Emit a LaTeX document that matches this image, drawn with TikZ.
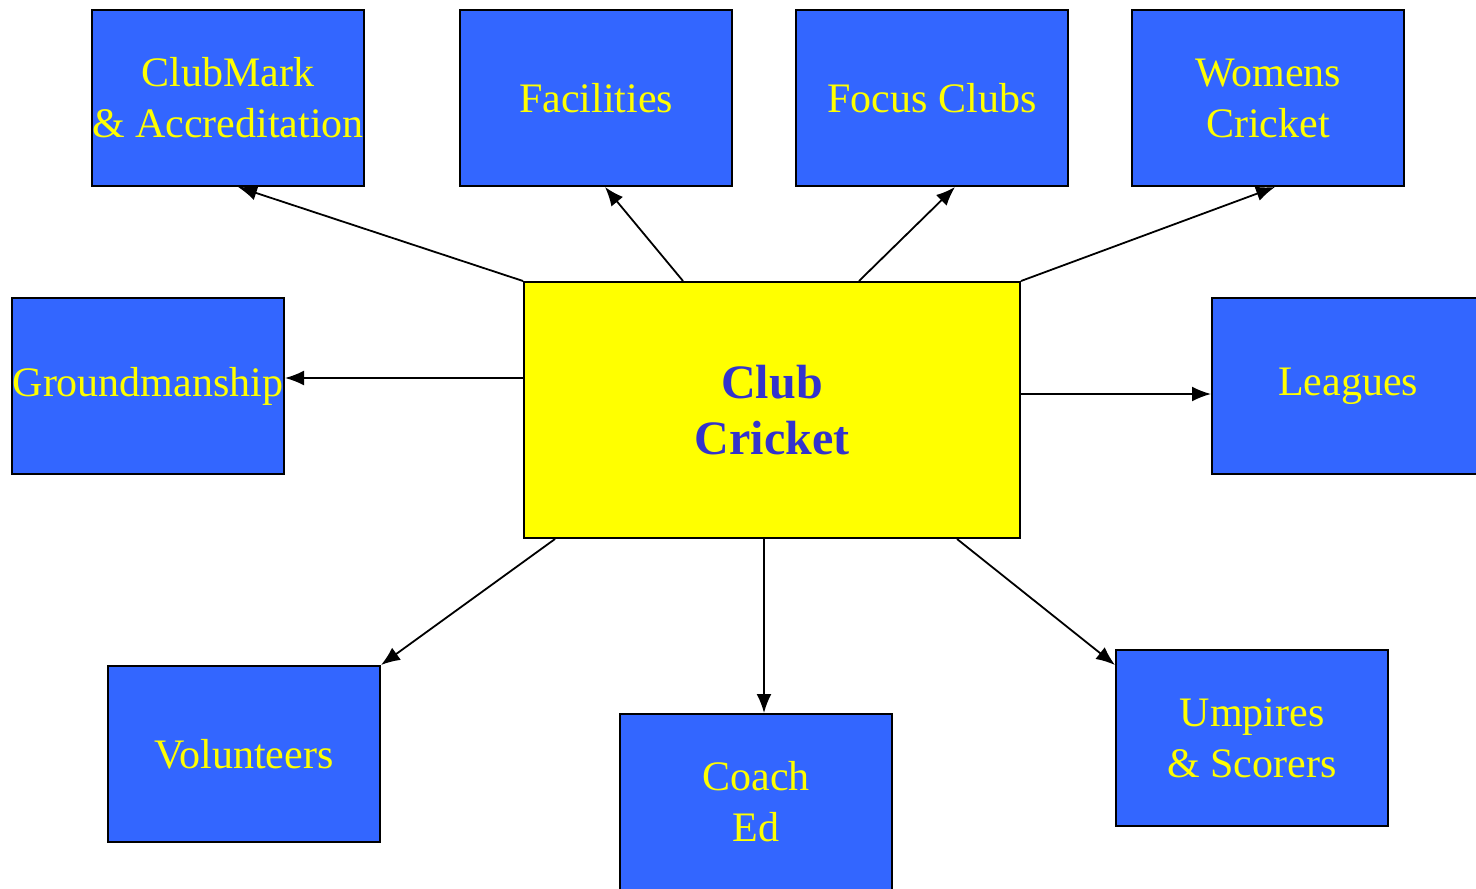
\documentclass[tikz,border=0pt]{standalone}
\usepackage{fontspec}
\setmainfont{Liberation Serif}
\usepackage{xcolor}
\usepackage{tikz}
\usetikzlibrary{arrows.meta,positioning,calc}
\definecolor{topicblue}{HTML}{3366FF}
\definecolor{hubyellow}{HTML}{FFFF00}
\definecolor{hubtext}{HTML}{3333CC}

\begin{document}
\begin{tikzpicture}[x=0.5pt, y=-0.5pt,
    topic/.style={draw=black, line width=1pt, fill=topicblue, text=hubyellow,
        minimum width=136pt, minimum height=88pt, inner sep=0pt, align=center,
        font=\fontsize{21}{25.5}\selectfont},
    hub/.style={draw=black, line width=1pt, fill=hubyellow, text=hubtext,
        minimum width=248pt, minimum height=128pt, inner sep=0pt, align=center,
        font=\fontsize{24}{28}\selectfont\bfseries},
    arr/.style={line width=0.9pt, -{Latex[length=9.5pt,width=7.5pt]}}]
    \useasboundingbox (0,0) rectangle (1476,888);

    % centre
    \node[hub] (club) at (772,410) {Club\\Cricket};

    % top row
    \node[topic] (clubmark) at (228,98) {ClubMark\\\& Accreditation};
    \node[topic] (facilities) at (596,98) {Facilities};
    \node[topic] (focus) at (932,98) {Focus Clubs};
    \node[topic] (womens) at (1268,98) {Womens\\Cricket};

    % sides
    \node[topic] (ground) at (148,386) {Groundmanship};
    \node[topic] (leagues) at (1348,386) {Leagues};

    % bottom row
    \node[topic] (volunteers) at (244,754) {Volunteers};
    \node[topic] (coach) at (756,802) {Coach\\Ed};
    \node[topic] (umpires) at (1252,738) {Umpires\\\& Scorers};

    \draw[arr] (club.north west) -- ([xshift=5pt]clubmark.south);
    \draw[arr] ([xshift=80pt]club.north west) -- ([xshift=4.5pt]facilities.south);
    \draw[arr] ([xshift=168pt]club.north west) -- ([xshift=11.5pt]focus.south);
    \draw[arr] (club.north east) -- ([xshift=3.5pt]womens.south);
    \draw[arr] ([yshift=16pt]club.west) -- ([yshift=16pt]club.west -| ground.east);
    \draw[arr] ([yshift=8pt]club.east) -- ([yshift=8pt]club.east -| leagues.west);
    \draw[arr] ([xshift=16pt]club.south west) -- (volunteers.north east);
    \draw[arr] ([xshift=-4pt]club.south) -- ([xshift=-4pt]club.south |- coach.north);
    \draw[arr] ([xshift=-32pt]club.south east) -- ([yshift=-8pt]umpires.north west);
\end{tikzpicture}
\end{document}
